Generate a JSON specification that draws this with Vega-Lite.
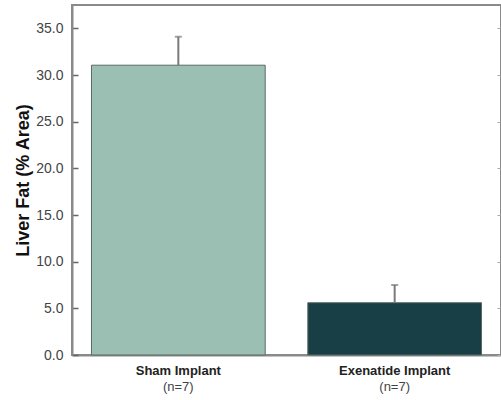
{
  "$schema": "https://vega.github.io/schema/vega-lite/v6.json",
  "width": 429,
  "height": 350,
  "autosize": {"type": "none"},
  "padding": {"left": 72, "top": 5, "right": 0, "bottom": 45},
  "background": "white",
  "config": {
    "font": "Liberation Sans",
    "view": {"stroke": "#8a8a8a", "strokeWidth": 2}
  },
  "data": {
    "values": [
      {"group": "Sham Implant", "n": "(n=7)", "mean": 31.05, "upper": 34.1},
      {"group": "Exenatide Implant", "n": "(n=7)", "mean": 5.6, "upper": 7.5}
    ]
  },
  "layer": [
    {
      "mark": {"type": "bar", "stroke": "#5a6a66", "strokeWidth": 1},
      "encoding": {
        "x": {
          "field": "group", "type": "nominal", "sort": null,
          "scale": {"paddingInner": 0.197, "paddingOuter": 0.09},
          "axis": {
            "orient": "bottom",
            "title": null, "labelAngle": 0, "labelFontWeight": "bold", "labelFontSize": 13,
            "labelColor": "#222", "labelPadding": 13, "domainColor": "#8a8a8a", "domainWidth": 2,
            "tickColor": "#555", "tickSize": -4, "tickWidth": 1.5
          }
        },
        "y": {
          "field": "mean", "type": "quantitative",
          "scale": {"domain": [0, 37.5], "nice": false},
          "axis": {
            "orient": "left",
            "title": "Liver Fat (% Area)", "titleFontSize": 18, "titleFontWeight": "bold",
            "titleColor": "#111", "titlePadding": 3,
            "values": [0, 5, 10, 15, 20, 25, 30, 35], "format": ".1f",
            "labelFontSize": 14, "labelColor": "#444", "labelPadding": 15,
            "domainColor": "#8a8a8a", "domainWidth": 2,
            "tickColor": "#666", "tickSize": -6, "tickWidth": 1.5, "grid": false
          }
        },
        "color": {
          "field": "group", "type": "nominal", "sort": null,
          "scale": {"domain": ["Sham Implant", "Exenatide Implant"], "range": ["#9bbfb3", "#173f45"]},
          "legend": null
        }
      }
    },
    {
      "mark": {"type": "rule", "color": "#7a7a7a", "strokeWidth": 2},
      "encoding": {
        "x": {
          "field": "group", "type": "nominal", "sort": null,
          "axis": {
            "orient": "bottom",
            "title": null, "labelAngle": 0, "labelExpr": "'(n=7)'", "labelFontSize": 13,
            "labelColor": "#444", "labelPadding": 25, "domain": false, "ticks": false, "offset": 0
          }
        },
        "y": {
          "field": "mean", "type": "quantitative",
          "axis": {
            "orient": "right", "title": null, "labels": false,
            "values": [0, 5, 10, 15, 20, 25, 30, 35],
            "domainColor": "#8a8a8a", "domainWidth": 2,
            "tickColor": "#aaa", "tickSize": -4, "tickWidth": 1, "grid": false
          }
        },
        "y2": {"field": "upper"}
      }
    },
    {
      "mark": {"type": "tick", "orient": "horizontal", "color": "#7a7a7a", "size": 7, "thickness": 2},
      "encoding": {
        "x": {"field": "group", "type": "nominal", "sort": null, "axis": null},
        "y": {"field": "upper", "type": "quantitative", "axis": null}
      }
    }
  ],
  "resolve": {"axis": {"x": "independent", "y": "independent"}}
}
